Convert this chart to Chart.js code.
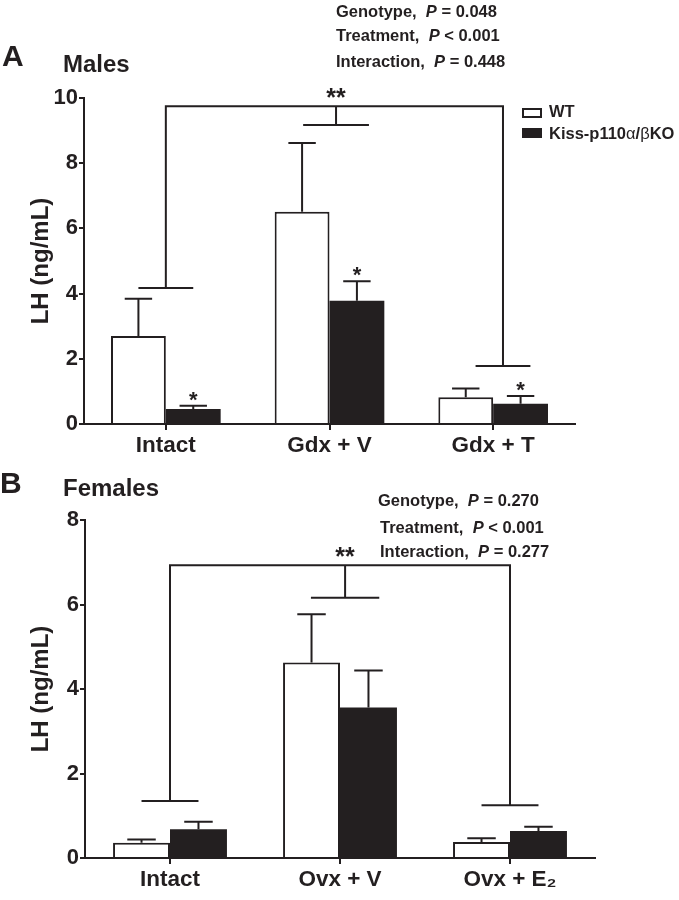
<!DOCTYPE html>
<html>
<head>
<meta charset="utf-8">
<script src="https://cdn.jsdelivr.net/npm/chart.js@4.4.1/dist/chart.umd.min.js"></script>
<style>
  body { margin: 0; background: #fff; }
  #page { position: relative; width: 679px; height: 900px; overflow: hidden;
          font-family: "Liberation Sans", Arial, sans-serif; font-weight: bold; color: #231f20; }
  canvas { position: absolute; left: 0; }
  .t { position: absolute; white-space: nowrap; line-height: 1; }
  .stat { font-size: 16.5px; }
  .greek { font-weight: normal; }
  .box { position: absolute; width: 16px; height: 6px; border: 2px solid #231f20; }
</style>
</head>
<body>
<div id="page">
  <canvas id="males" width="679" height="460" style="top:0"></canvas>
  <canvas id="females" width="679" height="440" style="top:460px"></canvas>

  <div class="t" style="left:2px;top:41px;font-size:30px">A</div>
  <div class="t" style="left:63px;top:52px;font-size:24px">Males</div>
  <div class="t" style="left:0px;top:468px;font-size:30px">B</div>
  <div class="t" style="left:63px;top:476px;font-size:24px">Females</div>

  <div id="statsA"></div>
  <div id="statsB"></div>

  <!-- legende panneau A -->
  <div class="box" style="left:522px;top:108px;background:#fff"></div>
  <div class="box" style="left:522px;top:128px;background:#231f20"></div>
  <div class="t stat" id="leg0" style="left:549px;top:103px"></div>
  <div class="t stat" id="leg1" style="left:549px;top:125px"></div>
</div>

<script>
//------------------------------ DONNEES ------------------------------

const seriesNames = ['WT', 'Kiss-p110α/βKO'];

// A : males
const groupsA = ['Intact', 'Gdx + V', 'Gdx + T'];
const wtMeanA = [2.70, 6.51, 0.82];
const wtSemA = [1.14, 2.11, 0.27];
const koMeanA = [0.46, 3.78, 0.62];
const koSemA = [0.10, 0.60, 0.24];
const koStarA = [true, true, true];
const yMaxA = 10;
const bracketTopA = 9.75;
const bracketAtA = [0, 1.04, 2.06];
const bracketEndA = [4.17, 9.17, 1.78];

// B : femelles
const groupsB = ['Intact', 'Ovx + V', 'Ovx + E₂'];
const wtMeanB = [0.36, 4.63, 0.38];
const wtSemB = [0.08, 1.14, 0.09];
const koMeanB = [0.68, 3.56, 0.64];
const koSemB = [0.18, 0.88, 0.10];
const koStarB = [false, false, false];
const yMaxB = 8;
const bracketTopB = 6.93;
const bracketAtB = [0, 1.03, 2.0];
const bracketEndB = [1.35, 6.16, 1.25];

const yStep = 2;

// stats (ANOVA 2 facteurs)
const statNames = ['Genotype', 'Treatment', 'Interaction'];
const statPA = ['= 0.048', '< 0.001', '= 0.448'];
const statPB = ['= 0.270', '< 0.001', '= 0.277'];

//---------------------------------------------------------------------

const ink = '#231f20';
const family = '"Liberation Sans", Arial, sans-serif';
Chart.defaults.font.family = family;
Chart.defaults.color = ink;

// textes des stats
function writeStats(id, values, left, tops) {
    const el = document.getElementById(id);
    statNames.forEach((name, i) => {
        const d = document.createElement('div');
        d.className = 't stat';
        d.style.left = left[i] + 'px';
        d.style.top = tops[i] + 'px';
        d.innerHTML = name + ',&nbsp; <i>P</i> ' + values[i];
        el.appendChild(d);
    });
}
writeStats('statsA', statPA, [336, 336, 336], [3, 27, 53]);
writeStats('statsB', statPB, [378, 380, 380], [492, 519, 543]);

document.getElementById('leg0').textContent = seriesNames[0];
document.getElementById('leg1').innerHTML = seriesNames[1].replace(/([αβ])/g, '<span class="greek">$1</span>');

// barres d'erreur, etoiles et crochet de significativite
const annotations = {
    id: 'annotations',
    afterDatasetsDraw(chart, args, opts) {
        const ctx = chart.ctx;
        const x = chart.scales.x;
        const y = chart.scales.y;
        ctx.save();
        ctx.strokeStyle = ink;
        ctx.fillStyle = ink;
        ctx.lineWidth = 2;
        let bw = 0;

        chart.data.datasets.forEach((ds, i) => {
            chart.getDatasetMeta(i).data.forEach((bar, j) => {
                bw = bar.width;
                const yTop = y.getPixelForValue(ds.data[j]);
                const yErr = y.getPixelForValue(ds.data[j] + ds.sem[j]);
                ctx.beginPath();
                ctx.moveTo(bar.x, yTop);
                ctx.lineTo(bar.x, yErr);
                ctx.moveTo(bar.x - bw / 4, yErr);
                ctx.lineTo(bar.x + bw / 4, yErr);
                ctx.stroke();
                if (ds.stars && ds.stars[j]) {
                    ctx.font = 'bold 22px ' + family;
                    ctx.textAlign = 'center';
                    ctx.textBaseline = 'alphabetic';
                    ctx.fillText('*', bar.x, yErr + 1);
                }
            });
        });

        const yb = y.getPixelForValue(opts.top);
        const xs = opts.at.map(v => x.getPixelForValue(v));
        const ye = opts.ends.map(v => y.getPixelForValue(v));
        const last = xs.length - 1;

        ctx.beginPath();
        ctx.moveTo(xs[0], ye[0]);
        ctx.lineTo(xs[0], yb);
        ctx.lineTo(xs[last], yb);
        ctx.lineTo(xs[last], ye[last]);
        for (let k = 1; k < last; k++) {
            ctx.moveTo(xs[k], yb);
            ctx.lineTo(xs[k], ye[k]);
        }
        xs.forEach((px, k) => {
            const half = (k === 0 || k === last ? bw : bw * 1.2) / 2;
            ctx.moveTo(px - half, ye[k]);
            ctx.lineTo(px + half, ye[k]);
        });
        ctx.stroke();

        ctx.font = 'bold 25px ' + family;
        ctx.textAlign = 'center';
        ctx.textBaseline = 'alphabetic';
        ctx.fillText('**', xs[1], yb);
        ctx.restore();
    }
};

function makeChart(id, groups, wt, wtSem, ko, koSem, koStar, yMax, bracket, pad, yWidth) {
    return new Chart(document.getElementById(id), {
        type: 'bar',
        plugins: [annotations],
        data: {
            labels: groups,
            datasets: [{
                label: seriesNames[0],
                data: wt,
                sem: wtSem,
                backgroundColor: '#ffffff',
                borderColor: ink,
                borderWidth: 2
            }, {
                label: seriesNames[1],
                data: ko,
                sem: koSem,
                stars: koStar,
                backgroundColor: ink,
                borderColor: ink,
                borderWidth: 0
            }]
        },
        options: {
            responsive: false,
            animation: false,
            events: [],
            datasets: { bar: { categoryPercentage: 0.67, barPercentage: 1.0 } },
            layout: { padding: pad },
            plugins: {
                legend: { display: false },
                tooltip: { enabled: false },
                annotations: bracket
            },
            scales: {
                x: {
                    offset: true,
                    grid: { offset: false, drawOnChartArea: false, drawTicks: true, tickLength: 6, color: ink, lineWidth: 2 },
                    border: { display: true, color: ink, width: 2 },
                    ticks: { color: ink, font: { size: 22.5, weight: 'bold' }, padding: 2, maxRotation: 0, autoSkip: false },
                    afterFit: s => { s.height = 30; }
                },
                y: {
                    min: 0,
                    max: yMax,
                    grid: { drawOnChartArea: false, drawTicks: true, tickLength: 5, color: ink, lineWidth: 2 },
                    border: { display: true, color: ink, width: 2 },
                    ticks: { stepSize: yStep, color: ink, font: { size: 22, weight: 'bold' }, padding: 1 },
                    title: {
                        display: true,
                        text: 'LH (ng/mL)',
                        color: ink,
                        font: { size: 24, weight: 'bold' },
                        padding: { top: 27, bottom: 0 }
                    },
                    afterFit: s => { s.width = yWidth; }
                }
            }
        }
    });
}

makeChart('males', groupsA, wtMeanA, wtSemA, koMeanA, koSemA, koStarA, yMaxA,
    { top: bracketTopA, at: bracketAtA, ends: bracketEndA },
    { top: 98, right: 104, bottom: 6, left: 0 }, 84);

makeChart('females', groupsB, wtMeanB, wtSemB, koMeanB, koSemB, koStarB, yMaxB,
    { top: bracketTopB, at: bracketAtB, ends: bracketEndB },
    { top: 60, right: 84, bottom: 12, left: 0 }, 85);
</script>
</body>
</html>
